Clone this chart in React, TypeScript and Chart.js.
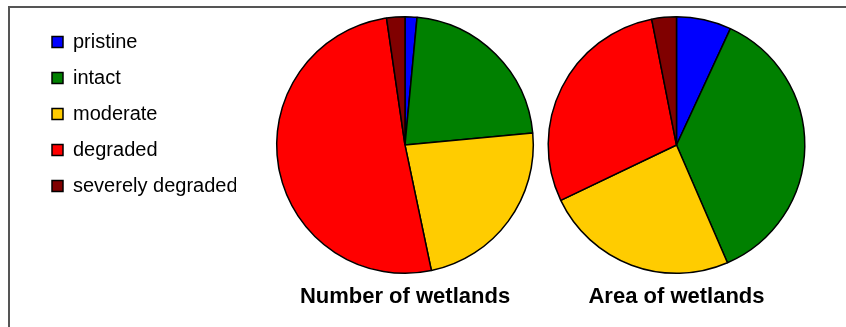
import React, { useEffect, useRef } from "react";
import { Chart, registerables } from "chart.js";

Chart.register(...registerables);

// Wetland condition classes and their colours
const conditionLabels = ["pristine", "intact", "moderate", "degraded", "severely degraded"];
const conditionColors = ["#0000FF", "#008000", "#FFCC00", "#FF0000", "#800000"];

// Share (%) of wetlands in each class, by count and by area
const numberShares = [1.5, 22, 23.2, 51, 2.3];
const areaShares = [6.9, 36.6, 24.4, 29, 3.1];

const chartTitles = ["Number of wetlands", "Area of wetlands"];

const FONT = "'Liberation Sans', Arial, sans-serif";

function pieConfig(values: number[], title: string, withLegend: boolean, padding: any): any {
  return {
    type: "pie",
    data: {
      labels: conditionLabels,
      datasets: [
        {
          data: values,
          backgroundColor: conditionColors,
          borderColor: "#000000",
          borderWidth: 1.5,
        },
      ],
    },
    options: {
      responsive: false,
      animation: false,
      events: [],
      layout: { padding },
      plugins: {
        tooltip: { enabled: false },
        legend: {
          display: withLegend,
          position: "left",
          align: "start",
          maxWidth: 200,
          labels: {
            color: "#000000",
            boxWidth: 11,
            boxHeight: 11,
            padding: 16,
            font: { family: FONT, size: 20 },
          },
        },
        title: {
          display: true,
          text: title,
          position: "bottom",
          fullSize: false,
          color: "#000000",
          padding: { top: 10, bottom: 10 },
          font: { family: FONT, size: 22, weight: "bold" },
        },
      },
    },
  };
}

function PieCanvas(props: {
  values: number[];
  title: string;
  legend: boolean;
  left: number;
  width: number;
  padding: any;
}) {
  const ref = useRef<HTMLCanvasElement | null>(null);
  useEffect(() => {
    if (!ref.current) return;
    const chart = new Chart(ref.current, pieConfig(props.values, props.title, props.legend, props.padding));
    return () => chart.destroy();
  }, []);
  return (
    <canvas
      ref={ref}
      width={props.width}
      height={327}
      style={{ position: "absolute", left: props.left, top: 0, width: props.width, height: 327 }}
    />
  );
}

export default function App() {
  return (
    <div
      style={{
        position: "absolute",
        left: 0,
        top: 0,
        width: 846,
        height: 327,
        background: "#ffffff",
        overflow: "hidden",
      }}
    >
      <div
        style={{
          position: "absolute",
          left: 8,
          top: 6,
          right: 0,
          bottom: 0,
          borderTop: "2px solid #555555",
          borderLeft: "2px solid #555555",
        }}
      />
      <PieCanvas
        values={numberShares}
        title={chartTitles[0]}
        legend={true}
        left={0}
        width={574}
        padding={{ left: 36, top: 16, right: 0, bottom: 6.5 }}
      />
      <PieCanvas
        values={areaShares}
        title={chartTitles[1]}
        legend={false}
        left={540}
        width={273}
        padding={{ left: 0, top: 16, right: 0, bottom: 6.5 }}
      />
    </div>
  );
}
